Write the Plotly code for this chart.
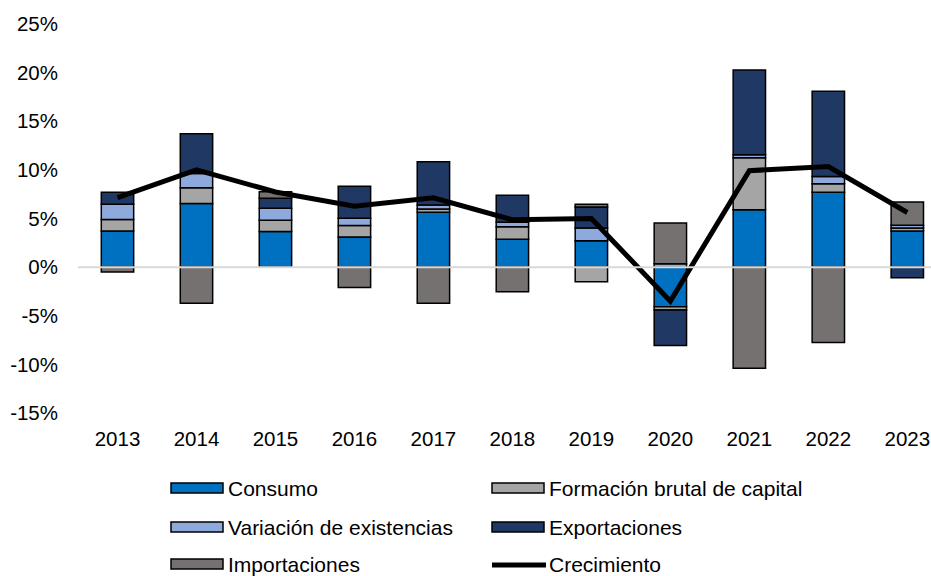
import plotly.graph_objects as go

# ---- data ----
years = ["2013", "2014", "2015", "2016", "2017", "2018", "2019", "2020", "2021", "2022", "2023"]
consumo = [3.72, 6.53, 3.66, 3.11, 5.64, 2.87, 2.70, -4.07, 5.91, 7.69, 3.72]
formacion = [1.17, 1.64, 1.16, 1.16, 0.34, 1.27, -1.50, -0.35, 5.34, 0.89, 0.31]
variacion = [1.57, 1.45, 1.23, 0.75, 0.42, 0.48, 1.33, 0.35, 0.31, 0.75, 0.28]
exportaciones = [1.23, 4.10, 1.03, 3.30, 4.44, 2.76, 2.16, -3.65, 8.72, 8.76, -1.10]
importaciones = [-0.51, -3.72, 0.68, -2.09, -3.72, -2.53, 0.27, 4.20, -10.39, -7.76, 2.39]
crecimiento = [7.15, 10.00, 7.73, 6.27, 7.13, 4.87, 5.00, -3.50, 9.92, 10.35, 5.62]
y_ticks = [-15, -10, -5, 0, 5, 10, 15, 20, 25]
y_ticktext = ["-15%", "-10%", "-5%", "0%", "5%", "10%", "15%", "20%", "25%"]

names = ["Consumo", "Formación brutal de capital", "Variación de existencias",
         "Exportaciones", "Importaciones"]
series = [consumo, formacion, variacion, exportaciones, importaciones]
colors = ["#0070C0", "#A5A5A5", "#8EA9DB", "#203864", "#767171"]

FONT = "Liberation Sans, Arial, sans-serif"
W, H = 931, 576
L, R, T, B = 78, 0, 24, 163
PW, PH = W - L - R, H - T - B

fig = go.Figure()
for name, vals, col in zip(names, series, colors):
    fig.add_trace(go.Bar(
        x=years, y=vals, name=name, width=0.41,
        marker=dict(color=col, line=dict(color="black", width=1.5)),
        showlegend=False,
    ))
fig.add_trace(go.Scatter(
    x=years, y=crecimiento, name="Crecimiento", mode="lines",
    line=dict(color="black", width=5), showlegend=False,
))

# convert pixel position to paper coordinates
def px_x(p):
    return (p - L) / PW

def px_y(p):
    return (T + PH - p) / PH

shapes = [dict(type="line", xref="paper", yref="y", x0=0, x1=1, y0=0, y1=0,
               line=dict(color="#D9D9D9", width=2), layer="above")]
annotations = []

legend_items = [
    ("Consumo", colors[0], 171, 488),
    ("Formación brutal de capital", colors[1], 492, 488),
    ("Variación de existencias", colors[2], 171, 527),
    ("Exportaciones", colors[3], 492, 527),
    ("Importaciones", colors[4], 171, 564),
    ("Crecimiento", None, 492, 564),
]
for label, col, lx, ly in legend_items:
    if col is not None:
        shapes.append(dict(type="rect", xref="paper", yref="paper",
                           x0=px_x(lx), x1=px_x(lx + 52), y0=px_y(ly + 5), y1=px_y(ly - 5),
                           fillcolor=col, line=dict(color="black", width=1.5)))
    else:
        shapes.append(dict(type="line", xref="paper", yref="paper",
                           x0=px_x(lx), x1=px_x(lx + 54), y0=px_y(ly + 1), y1=px_y(ly + 1),
                           line=dict(color="black", width=5)))
    annotations.append(dict(text=label, xref="paper", yref="paper",
                            x=px_x(lx + 55), y=px_y(ly), xanchor="left", yanchor="middle",
                            showarrow=False, font=dict(family=FONT, size=21, color="black")))

fig.update_layout(
    width=W, height=H,
    margin=dict(l=L, r=R, t=T, b=B),
    paper_bgcolor="white", plot_bgcolor="white",
    barmode="relative",
    showlegend=False,
    shapes=shapes,
    annotations=annotations,
    font=dict(family=FONT, size=20.5, color="black"),
    xaxis=dict(range=[-0.5, 10.3], showgrid=False, zeroline=False, showline=False,
               ticks="", tickfont=dict(family=FONT, size=20.5, color="black"),
               ticklabelstandoff=11),
    yaxis=dict(range=[-15, 25], tickvals=y_ticks, ticktext=y_ticktext, showgrid=False,
               zeroline=False, showline=False, ticks="",
               tickfont=dict(family=FONT, size=20.5, color="black"),
               ticklabelstandoff=19),
)

fig.write_html("out.html", config={"displayModeBar": False},
               post_script="document.body.style.margin='0';document.body.style.overflow='hidden';")
